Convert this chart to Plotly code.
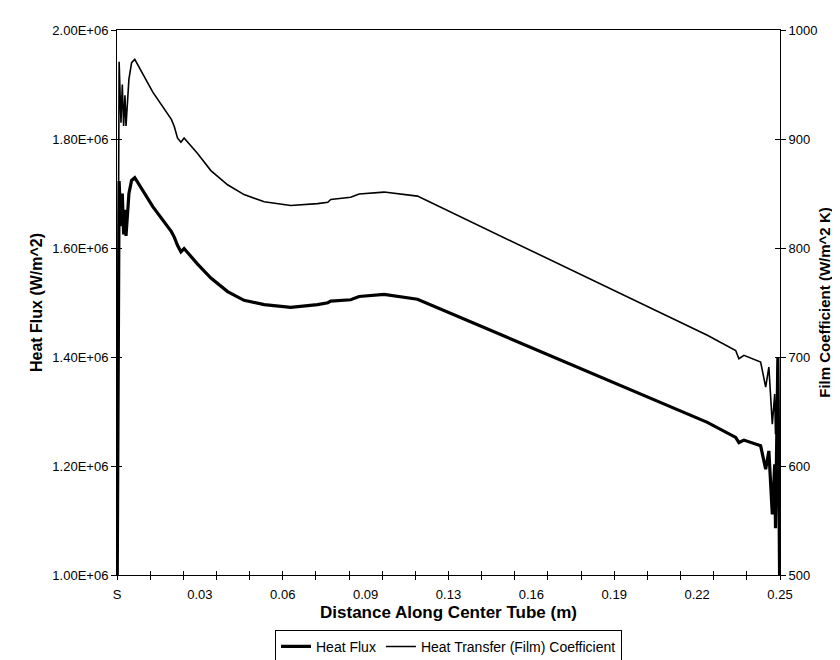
import plotly.graph_objects as go

# ---- data ----
distance_m = [0.0, 0.0008, 0.0015, 0.0020, 0.0025, 0.0030, 0.0034, 0.0045, 0.0055, 0.0067,
              0.0135, 0.0205, 0.0216, 0.0228, 0.0241, 0.0253, 0.0303, 0.0354, 0.0417, 0.0479,
              0.0555, 0.0655, 0.0756, 0.0795, 0.0806, 0.0881, 0.0913, 0.1007, 0.1133, 0.2000,
              0.2226, 0.2333, 0.2345, 0.2364, 0.2427, 0.2446, 0.2458, 0.2471, 0.2480, 0.2483,
              0.2492, 0.2500]

heat_flux = [0.90e6, 1.723e6, 1.640e6, 1.700e6, 1.625e6, 1.670e6, 1.622e6, 1.700e6, 1.724e6, 1.729e6,
             1.676e6, 1.630e6, 1.620e6, 1.605e6, 1.593e6, 1.599e6, 1.571e6, 1.545e6, 1.520e6, 1.504e6,
             1.496e6, 1.491e6, 1.496e6, 1.4995e6, 1.5025e6, 1.505e6, 1.511e6, 1.515e6, 1.506e6, 1.326e6,
             1.280e6, 1.2525e6, 1.243e6, 1.2475e6, 1.237e6, 1.194e6, 1.2276e6, 1.111e6, 1.203e6, 1.086e6,
             1.40e6, 0.90e6]

film_coeff = [480, 970.8, 915, 950, 912, 940, 912, 955, 970, 973,
              943, 918, 911.5, 901, 897, 901, 887, 871, 858, 849,
              842.5, 839, 840.7, 842, 844.5, 846.6, 849.5, 851.3, 847.6, 746,
              720, 706, 698.4, 701.5, 695.4, 672.3, 690.8, 638.4, 666.1, 629.2,
              700, 480]

x_tick_vals = [0, 0.03125, 0.0625, 0.09375, 0.125, 0.15625, 0.1875, 0.21875, 0.25]
x_tick_text = ["S", "0.03", "0.06", "0.09", "0.13", "0.16", "0.19", "0.22", "0.25"]
hf_tick_vals = [1.0e6, 1.2e6, 1.4e6, 1.6e6, 1.8e6, 2.0e6]
hf_tick_text = ["1.00E+06", "1.20E+06", "1.40E+06", "1.60E+06", "1.80E+06", "2.00E+06"]
fc_tick_vals = [500, 600, 700, 800, 900, 1000]
fc_tick_text = ["500", "600", "700", "800", "900", "1000"]

FONT = "Liberation Sans, Arial, sans-serif"

xr = [0, 0.25]
yr = [1.0e6, 2.0e6]
y2r = [500, 1000]

fig = go.Figure()
fig.add_trace(go.Scatter(x=distance_m, y=heat_flux, mode="lines", name="Heat Flux",
                         line=dict(color="black", width=3.2), xaxis="x", yaxis="y"))
fig.add_trace(go.Scatter(x=distance_m, y=film_coeff, mode="lines",
                         name="Heat Transfer (Film) Coefficient",
                         line=dict(color="black", width=1.6), xaxis="x", yaxis="y2"))
# empty helper traces so the overlay axes (inner half of the crossing ticks) get drawn
fig.add_trace(go.Scatter(x=[], y=[], xaxis="x2", yaxis="y3", showlegend=False,
                         hoverinfo="skip", mode="lines"))
fig.add_trace(go.Scatter(x=[], y=[], xaxis="x2", yaxis="y4", showlegend=False,
                         hoverinfo="skip", mode="lines"))

fig.update_layout(
    width=840, height=660,
    margin=dict(l=109, r=68, t=22, b=93, autoexpand=False),
    paper_bgcolor="white", plot_bgcolor="white",
    font=dict(family=FONT, size=13, color="black"),
    showlegend=True,
    legend=dict(orientation="h", x=0.5, xanchor="center", y=-0.163, yanchor="bottom",
                bordercolor="black", borderwidth=1, font=dict(size=14),
                itemwidth=30, tracegroupgap=0, bgcolor="white"),
    xaxis=dict(range=xr, showgrid=False, zeroline=False, showline=True, linecolor="black",
               linewidth=1, mirror=True, tickmode="array", tickvals=x_tick_vals,
               ticktext=x_tick_text, ticks="", ticklabelstandoff=7,
               minor=dict(ticks="outside", tickmode="linear", tick0=0, dtick=0.0125,
                          ticklen=4, tickcolor="black", tickwidth=1, showgrid=False),
               tickfont=dict(size=13),
               title=dict(text="<b>Distance Along Center Tube (m)</b>", font=dict(size=17),
                          standoff=5)),
    xaxis2=dict(range=xr, overlaying="x", side="bottom", anchor="y", showgrid=False,
                zeroline=False, showline=False, showticklabels=False, ticks="inside",
                tickmode="linear", tick0=0, dtick=0.0125, ticklen=4, tickcolor="black"),
    yaxis=dict(range=yr, showgrid=False, zeroline=False, showline=True, linecolor="black",
               linewidth=1, tickmode="array", tickvals=hf_tick_vals, ticktext=hf_tick_text,
               ticks="outside", ticklen=5, tickcolor="black", tickfont=dict(size=13),
               title=dict(text="<b>Heat Flux (W/m^2)</b>", font=dict(size=16), standoff=5)),
    yaxis2=dict(range=y2r, overlaying="y", side="right", anchor="x", showgrid=False,
                zeroline=False, showline=True, linecolor="black", linewidth=1,
                tickmode="array", tickvals=fc_tick_vals, ticktext=fc_tick_text,
                ticks="outside", ticklen=5, tickcolor="black", tickfont=dict(size=13),
                title=dict(text="<b>Film Coefficient (W/m^2 K)</b>", font=dict(size=15),
                           standoff=2)),
    yaxis3=dict(range=yr, overlaying="y", side="left", anchor="x2", showgrid=False,
                zeroline=False, showline=False, showticklabels=False, ticks="inside",
                tickmode="array", tickvals=hf_tick_vals, ticklen=5, tickcolor="black"),
    yaxis4=dict(range=y2r, overlaying="y", side="right", anchor="x2", showgrid=False,
                zeroline=False, showline=False, showticklabels=False, ticks="inside",
                tickmode="array", tickvals=fc_tick_vals, ticklen=5, tickcolor="black"),
)

fig.write_html("out.html")
